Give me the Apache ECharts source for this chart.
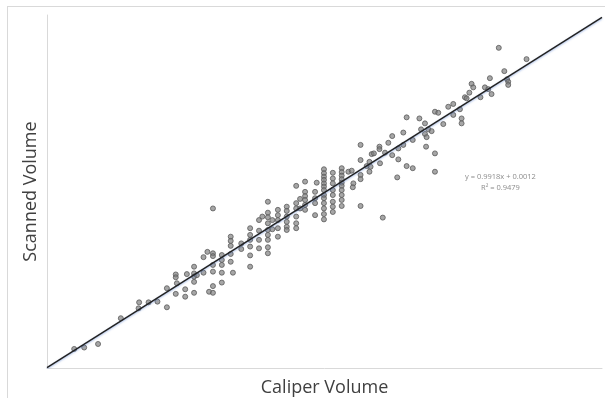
<!DOCTYPE html>
<html>
<head>
<meta charset="utf-8">
<title>Scanned vs Caliper Volume</title>
<script src="https://cdn.jsdelivr.net/npm/echarts@6/dist/echarts.min.js"></script>
<style>
  html, body { margin: 0; padding: 0; background: #fff; }
  #wrap { position: relative; width: 605px; height: 398px; overflow: hidden; }
  #frame { position: absolute; left: 7px; top: 6px; right: 0; bottom: 0;
    border-left: 1px solid #d9d9d9; border-top: 1px solid #d9d9d9; }
  #chart { position: absolute; left: 0; top: 0; width: 605px; height: 398px; }
</style>
</head>
<body>
<div id="wrap">
  <div id="frame"></div>
  <div id="chart"></div>
</div>
<script>
(function () {
  'use strict';

  // caliper volume (x) and scanned volume (y), same order
  const caliperVolume = [
    0.049, 0.067, 0.092, 0.133, 0.166, 0.165, 0.183, 0.199, 0.216, 0.216,
    0.232, 0.232, 0.234, 0.232, 0.249, 0.249, 0.252, 0.265, 0.265, 0.265,
    0.265, 0.265, 0.270, 0.282, 0.282, 0.289, 0.292, 0.299, 0.299, 0.299,
    0.299, 0.299, 0.299, 0.299, 0.315, 0.315, 0.315, 0.315, 0.315, 0.331,
    0.331, 0.331, 0.331, 0.331, 0.335,
    0.350, 0.350, 0.366, 0.366, 0.366, 0.366, 0.366, 0.366, 0.382, 0.382,
    0.382, 0.382, 0.388, 0.398, 0.398, 0.398, 0.398, 0.398, 0.398, 0.398,
    0.398, 0.398, 0.406, 0.406, 0.416, 0.416, 0.416, 0.416, 0.416, 0.432,
    0.432, 0.432, 0.432, 0.432, 0.432, 0.449, 0.449, 0.449, 0.449, 0.449,
    0.449, 0.456, 0.456, 0.465, 0.465, 0.465, 0.465, 0.465, 0.465, 0.483,
    0.483, 0.483, 0.483, 0.486,
    0.499, 0.499, 0.499, 0.499, 0.499, 0.499, 0.499, 0.499, 0.499, 0.499, 0.499, 0.499, 0.499,
    0.515, 0.515, 0.515, 0.515, 0.515, 0.515, 0.515, 0.515,
    0.531, 0.531, 0.531, 0.531, 0.531, 0.531, 0.531, 0.531, 0.531, 0.531,
    0.543, 0.549, 0.552, 0.551, 0.565, 0.565, 0.565, 0.565, 0.565, 0.576,
    0.581, 0.583, 0.581, 0.585, 0.589, 0.599, 0.599, 0.600, 0.605, 0.609,
    0.615, 0.622, 0.622, 0.631, 0.633, 0.633, 0.642, 0.642, 0.648, 0.648,
    0.659, 0.659, 0.671,
    0.674, 0.681, 0.687, 0.693, 0.681, 0.684, 0.683, 0.699, 0.705, 0.714,
    0.699, 0.699, 0.723, 0.732, 0.732, 0.744, 0.747, 0.747, 0.753, 0.756,
    0.761, 0.765, 0.768, 0.781, 0.789, 0.795, 0.798, 0.801, 0.814, 0.824,
    0.829, 0.831, 0.831, 0.864
  ];

  const scannedVolume = [
    0.054, 0.058, 0.068, 0.141, 0.186, 0.169, 0.186, 0.188, 0.226, 0.172,
    0.265, 0.257, 0.240, 0.210, 0.223, 0.202, 0.266, 0.287, 0.268, 0.259,
    0.244, 0.213, 0.263, 0.314, 0.270, 0.329, 0.216, 0.213, 0.325, 0.317,
    0.292, 0.273, 0.232, 0.452, 0.320, 0.306, 0.292, 0.270, 0.242, 0.372,
    0.360, 0.346, 0.323, 0.301, 0.270,
    0.353, 0.337, 0.396, 0.377, 0.363, 0.344, 0.319, 0.287, 0.419, 0.389,
    0.363, 0.339, 0.429, 0.471, 0.440, 0.427, 0.410, 0.391, 0.377, 0.363,
    0.342, 0.325, 0.419, 0.393, 0.448, 0.433, 0.419, 0.396, 0.372, 0.457,
    0.445, 0.429, 0.414, 0.400, 0.391, 0.516, 0.467, 0.452, 0.429, 0.410,
    0.396, 0.479, 0.452, 0.528, 0.499, 0.487, 0.476, 0.462, 0.448, 0.499,
    0.481, 0.467, 0.433, 0.525,
    0.563, 0.552, 0.542, 0.533, 0.523, 0.514, 0.504, 0.490, 0.481, 0.467, 0.452, 0.436, 0.421,
    0.553, 0.537, 0.523, 0.504, 0.490, 0.471, 0.457, 0.442,
    0.566, 0.555, 0.545, 0.535, 0.525, 0.516, 0.504, 0.490, 0.476, 0.459,
    0.556, 0.559, 0.523, 0.512, 0.632, 0.589, 0.547, 0.535, 0.459, 0.572,
    0.584, 0.570, 0.556, 0.606, 0.608, 0.627, 0.620, 0.580, 0.426, 0.610,
    0.638, 0.657, 0.603, 0.540, 0.622, 0.591, 0.667, 0.632, 0.710, 0.572,
    0.566, 0.646, 0.707,
    0.676, 0.693, 0.676, 0.671, 0.663, 0.654, 0.627, 0.726, 0.723, 0.691,
    0.608, 0.556, 0.740, 0.748, 0.717, 0.733, 0.707, 0.693, 0.767, 0.764,
    0.780, 0.805, 0.795, 0.767, 0.795, 0.790, 0.821, 0.776, 0.907, 0.841,
    0.818, 0.811, 0.802, 0.875
  ];

  // linear trendline as printed on the chart
  const trendSlope = 0.9918;
  const trendIntercept = 0.0012;
  const trendRange = [0, 1];
  const trendLabels = ['y = 0.9918x + 0.0012', 'R\u00b2 = 0.9479'];

  const axisTitles = { x: 'Caliper Volume', y: 'Scanned Volume' };

  const points = caliperVolume.map((x, i) => [x, scannedVolume[i]]);
  const trend = trendRange.map((x) => [x, trendSlope * x + trendIntercept]);

  const chart = echarts.init(document.getElementById('chart'), null, { renderer: 'canvas' });

  const axisBase = {
    type: 'value',
    min: 0,
    max: 1,
    nameLocation: 'middle',
    nameTextStyle: { color: '#404040', fontSize: 18, fontFamily: 'Open Sans' },
    axisLine: { show: true, lineStyle: { color: '#d9d9d9', width: 1 } },
    axisTick: { show: false },
    axisLabel: { show: false },
    splitLine: { show: false }
  };

  chart.setOption({
    animation: false,
    backgroundColor: 'transparent',
    grid: { left: 47, right: 3, top: 15, bottom: 30, outerBoundsMode: 'none', containLabel: false },
    xAxis: Object.assign({}, axisBase, { name: axisTitles.x, nameGap: 11 }),
    yAxis: Object.assign({}, axisBase, { name: axisTitles.y, nameGap: 7 }),
    graphic: [{
      type: 'text',
      left: 465,
      top: 171,
      style: {
        text: trendLabels.join('\n'),
        align: 'center',
        fill: '#8c8c8c',
        font: '7.5px "Open Sans"',
        lineHeight: 11,
        textAlign: 'center'
      }
    }],
    series: [
      {
        name: 'Volume',
        type: 'scatter',
        data: points,
        symbol: 'circle',
        symbolSize: 5,
        itemStyle: { color: 'rgba(125,125,125,0.85)', borderColor: '#5a5a5a', borderWidth: 1 },
        emphasis: { disabled: true },
        z: 2
      },
      {
        name: 'Trend',
        type: 'line',
        data: trend,
        showSymbol: false,
        lineStyle: {
          color: '#222',
          width: 1.5,
          shadowColor: 'rgba(90,130,210,0.55)',
          shadowBlur: 2,
          shadowOffsetY: 1
        },
        emphasis: { disabled: true },
        z: 3
      }
    ]
  });
})();
</script>
</body>
</html>
